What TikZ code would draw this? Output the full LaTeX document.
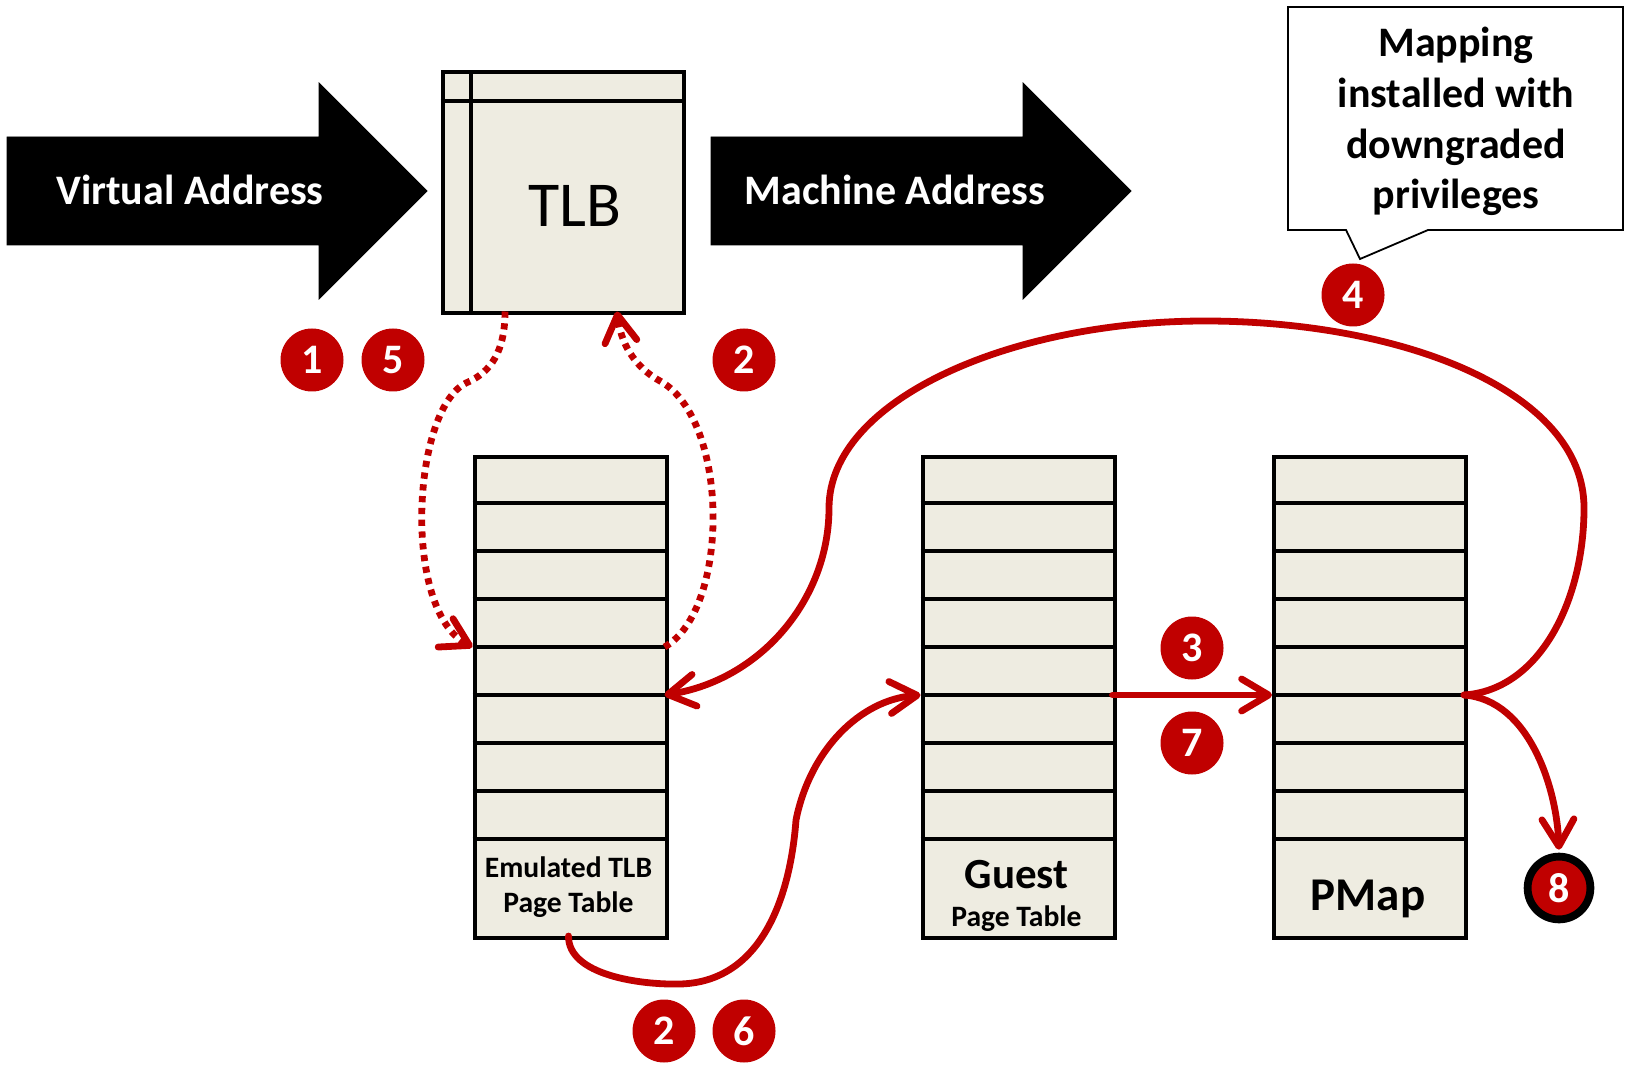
\documentclass[tikz,border=0pt]{standalone}
\usepackage{fontspec}
\setmainfont{Carlito}
\usetikzlibrary{arrows.meta,calc}
\definecolor{dred}{HTML}{C00000}
\definecolor{beige}{HTML}{EEECE1}
\begin{document}
\begin{tikzpicture}[x=0.5pt,y=-0.5pt,
  blockarrow/.style={fill=black},
  arrowtext/.style={text=white,font=\bfseries\fontsize{21}{24}\selectfont,anchor=base,inner sep=0},
  tbl/.style={draw=black,line width=2pt,fill=beige,rectangle,minimum width=96pt,minimum height=240.5pt,anchor=north west,inner sep=0},
  rowline/.style={draw=black,line width=2pt},
  badge/.style={circle,fill=dred,text=white,font=\bfseries\fontsize{21}{24}\selectfont,minimum size=31.5pt,inner sep=0},
  redline/.style={draw=dred,line width=3.4pt,line cap=round,line join=round},
  dottedred/.style={draw=dred,line width=3.4pt,dash pattern=on 3.1pt off 2.8pt},
  tipred/.style={-{Straight Barb[length=13.5pt,width=16pt,line cap=round,line join=round]}},
  lbl/.style={font=\bfseries\fontsize{14.8}{17}\selectfont,anchor=base,inner sep=0},
  calltext/.style={font=\bfseries\fontsize{21}{24}\selectfont,anchor=base,inner sep=0},
]
\useasboundingbox (0,0) rectangle (1625,1068);

% block arrows
\draw[blockarrow] (7,137) -- (319,137) -- (319,83) -- (427,191) -- (319,299) -- (319,245) -- (7,245) -- cycle;
\node[arrowtext] (va) at (190,205) {Virtual Address};
\draw[blockarrow] (711,137) -- (1023,137) -- (1023,83) -- (1131,191) -- (1023,299) -- (1023,245) -- (711,245) -- cycle;
\node[arrowtext] (ma) at (895,205) {Machine Address};

% TLB
\node[draw=black,line width=2pt,fill=beige,anchor=north west,minimum width=120.5pt,minimum height=120.5pt,inner sep=0] (tlb) at (440.5,70.5) {};
\draw[rowline] (470.5,70.5) -- (470.5,311.5);
\draw[rowline] (440.5,101) -- (681.5,101);
\node[font=\fontsize{32}{36}\selectfont,anchor=base,inner sep=0] (tlbtext) at (575,227) {TLB};

% callout
\draw[line width=0.9pt,fill=white] (1288,7) -- (1623,7) -- (1623,230) -- (1428,230) -- (1360,259) -- (1346,230) -- (1288,230) -- cycle;
\node[calltext] (c1) at (1456,57) {Mapping};
\node[calltext] (c2) at (1456,108) {installed with};
\node[calltext] (c3) at (1456,158.5) {downgraded};
\node[calltext] (c4) at (1456,209) {privileges};

% tables
\node[tbl] (emu) at (472.5,455) {};
\node[tbl] (guest) at (920.5,455) {};
\node[tbl] (pmap) at (1272,455) {};
\foreach \k in {1,...,8}{
  \draw[rowline] (472.5,455+48*\k) -- (664.5,455+48*\k);
  \draw[rowline] (920.5,455+48*\k) -- (1112.5,455+48*\k);
  \draw[rowline] (1272,455+48*\k) -- (1464,455+48*\k);
}
\node[lbl] (emul1) at (568.5,877) {Emulated TLB};
\node[lbl] (emul2) at (568.5,912.5) {Page Table};
\node[font=\bfseries\fontsize{21.5}{24}\selectfont,anchor=base,inner sep=0] (guestl1) at (1016.5,888) {Guest};
\node[lbl] (guestl2) at (1016.5,926) {Page Table};
\node[font=\bfseries\fontsize{23.5}{26}\selectfont,anchor=base,inner sep=0] (pmapl) at (1368,910) {PMap};

% anchor points
\coordinate (tlbB1) at (505,311.5);
\coordinate (tlbB2) at (617,311.5);
\coordinate (emuL4) at (472.5,647);
\coordinate (emuR4) at (664.5,647);
\coordinate (emuR5) at (664.5,695);
\coordinate (emuB) at (568.5,936);
\coordinate (guestL5) at (920.5,695);
\coordinate (guestR5) at (1112.5,695);
\coordinate (pmapL5) at (1272,695);
\coordinate (pmapR5) at (1464,695);

% badges
\node[badge] (b1) at (312,360) {1};
\node[badge] (b5) at (393,360) {5};
\node[badge] (b2a) at (744,360) {2};
\node[badge] (b4) at (1353,295) {4};
\node[badge] (b3) at (1192,648) {3};
\node[badge] (b7) at (1192,743) {7};
\node[badge,draw=black,line width=3.9pt,minimum size=31.4pt] (b8) at (1559,888) {8};
\node[badge] (b2b) at (664,1031) {2};
\node[badge] (b6) at (744,1031) {6};

% connectors
\draw[dottedred,tipred] (tlbB1) .. controls (505,350) and (492,372) .. (466,383)
   .. controls (412,410) and (402,610) .. (emuL4);
\draw[dottedred,tipred] (emuR4) .. controls (730,610) and (730,420) .. (660,381)
   .. controls (640,370) and (622,350) .. (tlbB2);
\draw[redline,tipred] (pmapR5) .. controls (1540,690) and (1584,600) .. (1584,508)
   .. controls (1584,390) and (1400,321) .. (1205,321)
   .. controls (1010,321) and (829,400) .. (829,508)
   .. controls (829,600) and (760,680) .. (emuR5);
\draw[redline,tipred,shorten >=1.5pt] (pmapR5) .. controls (1530,700) and (1557,790) .. (b8.north);
\draw[redline,tipred] (guestR5) -- (pmapL5);
\draw[redline,tipred] (emuB) .. controls (568,975) and (640,985) .. (680,984)
   .. controls (760,982) and (790,900) .. (796,820)
   .. controls (810,750) and (860,700) .. (guestL5);
\end{tikzpicture}
\end{document}
